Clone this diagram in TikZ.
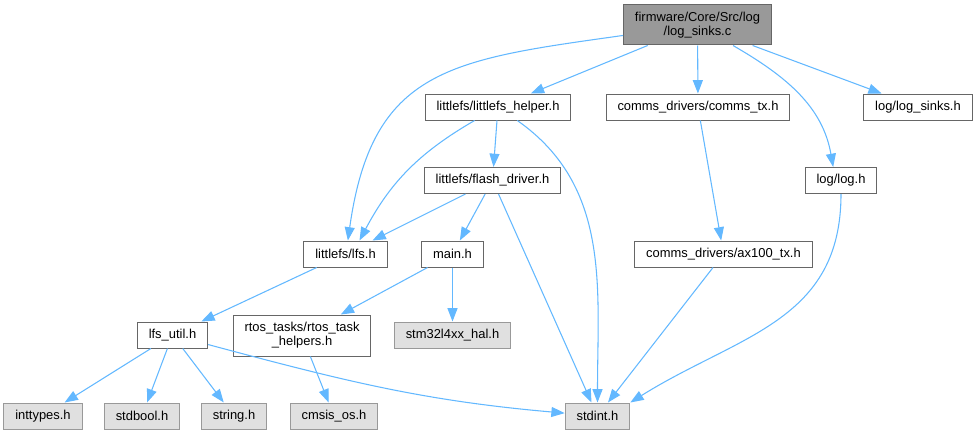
\documentclass[tikz,border=0pt]{standalone}
\usepackage{fontspec}
\setmainfont{Liberation Sans}
\usepackage{xcolor}
\usetikzlibrary{arrows.meta}

\definecolor{incblue}{HTML}{63B8FF}
\definecolor{boxline}{HTML}{666666}
\definecolor{extline}{HTML}{999999}
\definecolor{extfill}{HTML}{E0E0E0}
\definecolor{srcfill}{HTML}{999999}

\tikzset{
  file/.style={draw=boxline, fill=white, line width=0.75pt, minimum height=19.5pt,
    inner xsep=8.6pt, inner ysep=2pt, align=center,
    font=\fontsize{9.7}{10.5}\selectfont},
  extfile/.style={file, draw=extline, fill=extfill},
  srcfile/.style={file, fill=srcfill, minimum height=30pt},
  inc/.style={draw=incblue, line width=0.8pt, -{Triangle[length=10pt,width=7.5pt]}},
}

\begin{document}
\begin{tikzpicture}[x=0.75pt,y=-0.75pt]
\useasboundingbox (0,0) rectangle (977,435);
\node[srcfile] (main) at (697.5,25) {firmware/Core/Src/log\\/log\_sinks.c};
\node[file] (helper) at (498,107) {littlefs/littlefs\_helper.h};
\node[file] (commstx) at (698,107) {comms\_drivers/comms\_tx.h};
\node[file] (logsinksh) at (918,107) {log/log\_sinks.h};
\node[file] (flash) at (492.5,180.5) {littlefs/flash\_driver.h};
\node[file] (logh) at (841,180.5) {log/log.h};
\node[file] (lfs) at (345.5,254) {littlefs/lfs.h};
\node[file] (mainh) at (452.5,254) {main.h};
\node[file] (ax100) at (723.5,254) {comms\_drivers/ax100\_tx.h};
\node[file] (lfsutil) at (172.5,335) {lfs\_util.h};
\node[file, minimum height=30.75pt] (rtos) at (302,335.5) {rtos\_tasks/rtos\_task\\\_helpers.h};
\node[extfile] (stm32) at (452.5,335) {stm32l4xx\_hal.h};
\node[extfile] (inttypes) at (43,416) {inttypes.h};
\node[extfile] (stdbool) at (142,416) {stdbool.h};
\node[extfile] (stringh) at (234,416) {string.h};
\node[extfile] (cmsis) at (334,416) {cmsis\_os.h};
\node[extfile] (stdint) at (597.5,416) {stdint.h};

\draw[inc] (main) to[out=188,in=82,looseness=1.3] (lfs.80);
\draw[inc] (main) -- (helper);
\draw[inc] (main) -- (commstx);
\draw[inc] (main) to[out=-30,in=100] (logh.120);
\draw[inc] (main) -- (logsinksh);
\draw[inc] (helper) to[out=210,in=62] (lfs.44);
\draw[inc] (helper) -- (flash);
\draw[inc] (helper) to[out=-35,in=90] (stdint);
\draw[inc] (commstx) -- (ax100);
\draw[inc] (flash) -- (lfs);
\draw[inc] (flash) -- (mainh);
\draw[inc] (flash) -- (stdint);
\draw[inc] (logh) to[out=-90,in=32,looseness=1.1] (stdint.north east);
\draw[inc] (lfs) -- (lfsutil);
\draw[inc] (mainh) -- (rtos);
\draw[inc] (mainh) -- (stm32);
\draw[inc] (ax100) -- (stdint);
\draw[inc] (lfsutil) -- (inttypes);
\draw[inc] (lfsutil) -- (stdbool);
\draw[inc] (lfsutil) -- (stringh);
\draw[inc] (lfsutil) to[out=-15,in=175] (stdint);
\draw[inc] (rtos) -- (cmsis);

\end{tikzpicture}
\end{document}
